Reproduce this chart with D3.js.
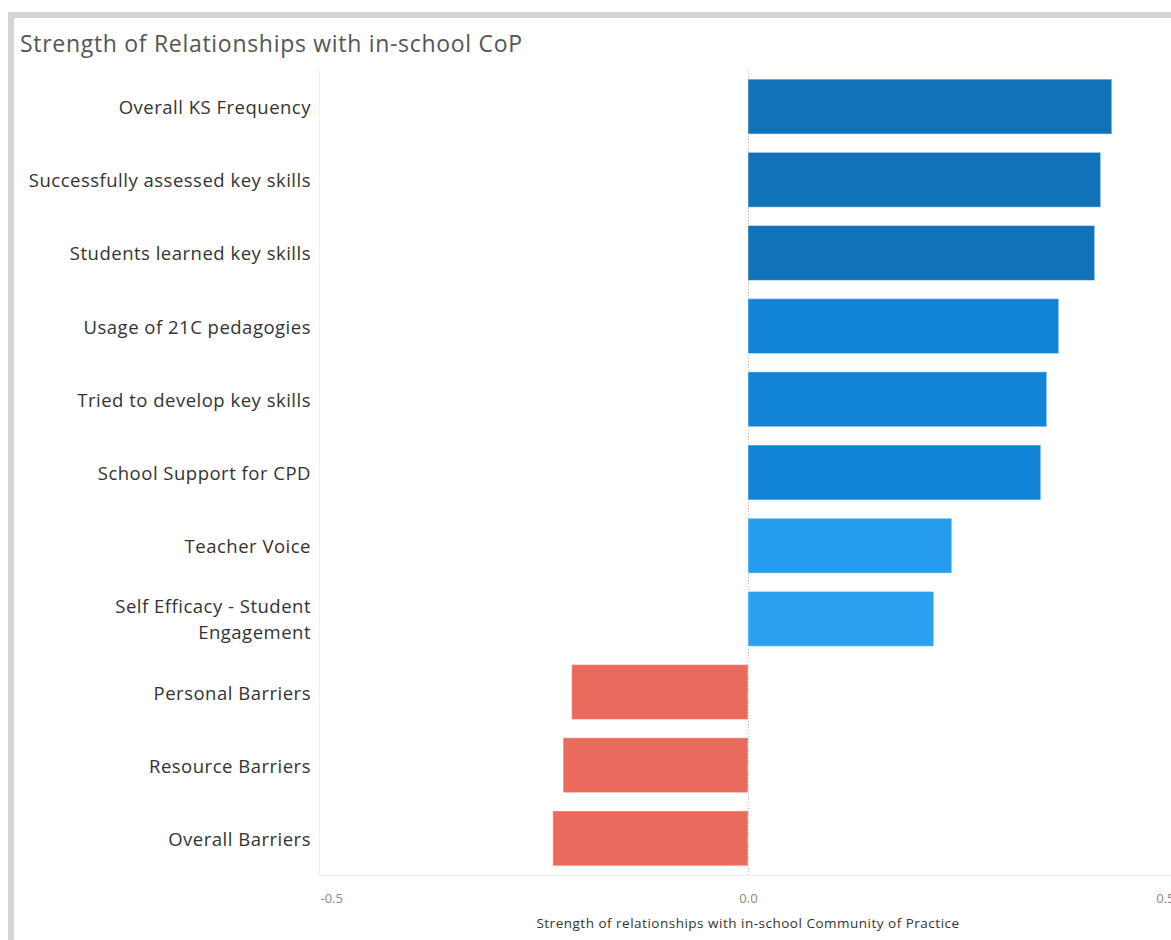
<!DOCTYPE html>
<html><head><meta charset="utf-8">
<script src="https://cdn.jsdelivr.net/npm/d3@7"></script>
<style>body{margin:0;background:#fff;} svg{display:block;font-family:"Open Sans",sans-serif;}</style>
</head><body><svg id="c" width="1171" height="940"></svg>
<script>
const categories = ["Overall KS Frequency","Successfully assessed key skills","Students learned key skills","Usage of 21C pedagogies","Tried to develop key skills","School Support for CPD","Teacher Voice","Self Efficacy - Student Engagement","Personal Barriers","Resource Barriers","Overall Barriers"];
const values = [0.425, 0.412, 0.405, 0.363, 0.349, 0.342, 0.238, 0.217, -0.206, -0.216, -0.228];
const colors = ["#1073b9","#1073b9","#1073b9","#1184d5","#1184d5","#1184d5","#249def","#2ca1ef","#ea6a5e","#ea6a5e","#ea6a5e"];
const tickValues = [-0.5, 0.0, 0.5];
const labelLines = {"Self Efficacy - Student Engagement":["Self Efficacy - Student","Engagement"]};

const svg = d3.select("#c");
// frame
svg.append("rect").attr("x",11).attr("y",15).attr("width",1180).attr("height",940).attr("fill","none").attr("stroke","#d4d4d4").attr("stroke-width",6);
svg.append("text").attr("x",20).attr("y",52).attr("font-size",23).attr("letter-spacing",0.7).attr("fill","#555").text("Strength of Relationships with in-school CoP");

const x = d3.scaleLinear().domain([-0.5,0.5]).range([320,1176]);
const y = d3.scaleBand().domain(categories).range([70,875]).paddingInner(0.25).paddingOuter(0.125);

// left divider and bottom axis line
svg.append("line").attr("x1",319.5).attr("x2",319.5).attr("y1",70).attr("y2",876).attr("stroke","#eeeeee");
svg.append("line").attr("x1",319).attr("x2",1171).attr("y1",875.5).attr("y2",875.5).attr("stroke","#eeeeee");

// zero line
svg.append("line").attr("x1",x(0)+0.5).attr("x2",x(0)+0.5).attr("y1",70).attr("y2",876).attr("stroke","#bbbbbb").attr("stroke-dasharray","1,2");

svg.append("g").selectAll("rect").data(categories).join("rect")
  .attr("x",(d,i)=>x(Math.min(0,values[i])))
  .attr("width",(d,i)=>Math.abs(x(values[i])-x(0)))
  .attr("y",d=>y(d)).attr("height",y.bandwidth())
  .attr("fill",(d,i)=>colors[i]).attr("stroke","rgba(255,255,255,0.45)").attr("stroke-width",1);

// labels
const lab = svg.append("g").attr("font-size",18.5).attr("letter-spacing",0.5).attr("fill","#333");
categories.forEach(c=>{
  const lines = labelLines[c] || [c];
  const cy = y(c)+y.bandwidth()/2 + 1;
  const t = lab.append("text").attr("text-anchor","end").attr("x",311);
  lines.forEach((l,j)=>{
    t.append("tspan").attr("x",311).attr("y",cy + (j-(lines.length-1)/2)*26).attr("dy","0.35em").text(l);
  });
});

// axis ticks
const ax = d3.axisBottom(x).tickValues(tickValues).tickFormat(d=>d.toFixed(1)).tickSize(0).tickPadding(12);
const g = svg.append("g").attr("transform","translate(0,882)").call(ax);
g.select(".domain").remove();
g.selectAll("text").attr("font-size",13).attr("fill","#888").attr("font-family","'Open Sans',sans-serif");
g.selectAll("text").filter(d=>d===-0.5).attr("text-anchor","start").attr("x",0);
g.selectAll("text").filter(d=>d===0.5).attr("text-anchor","end").attr("x",-2);

svg.append("text").attr("x",748).attr("y",928).attr("text-anchor","middle").attr("font-size",13.5).attr("letter-spacing",0.5).attr("fill","#333").text("Strength of relationships with in-school Community of Practice");
</script></body></html>
